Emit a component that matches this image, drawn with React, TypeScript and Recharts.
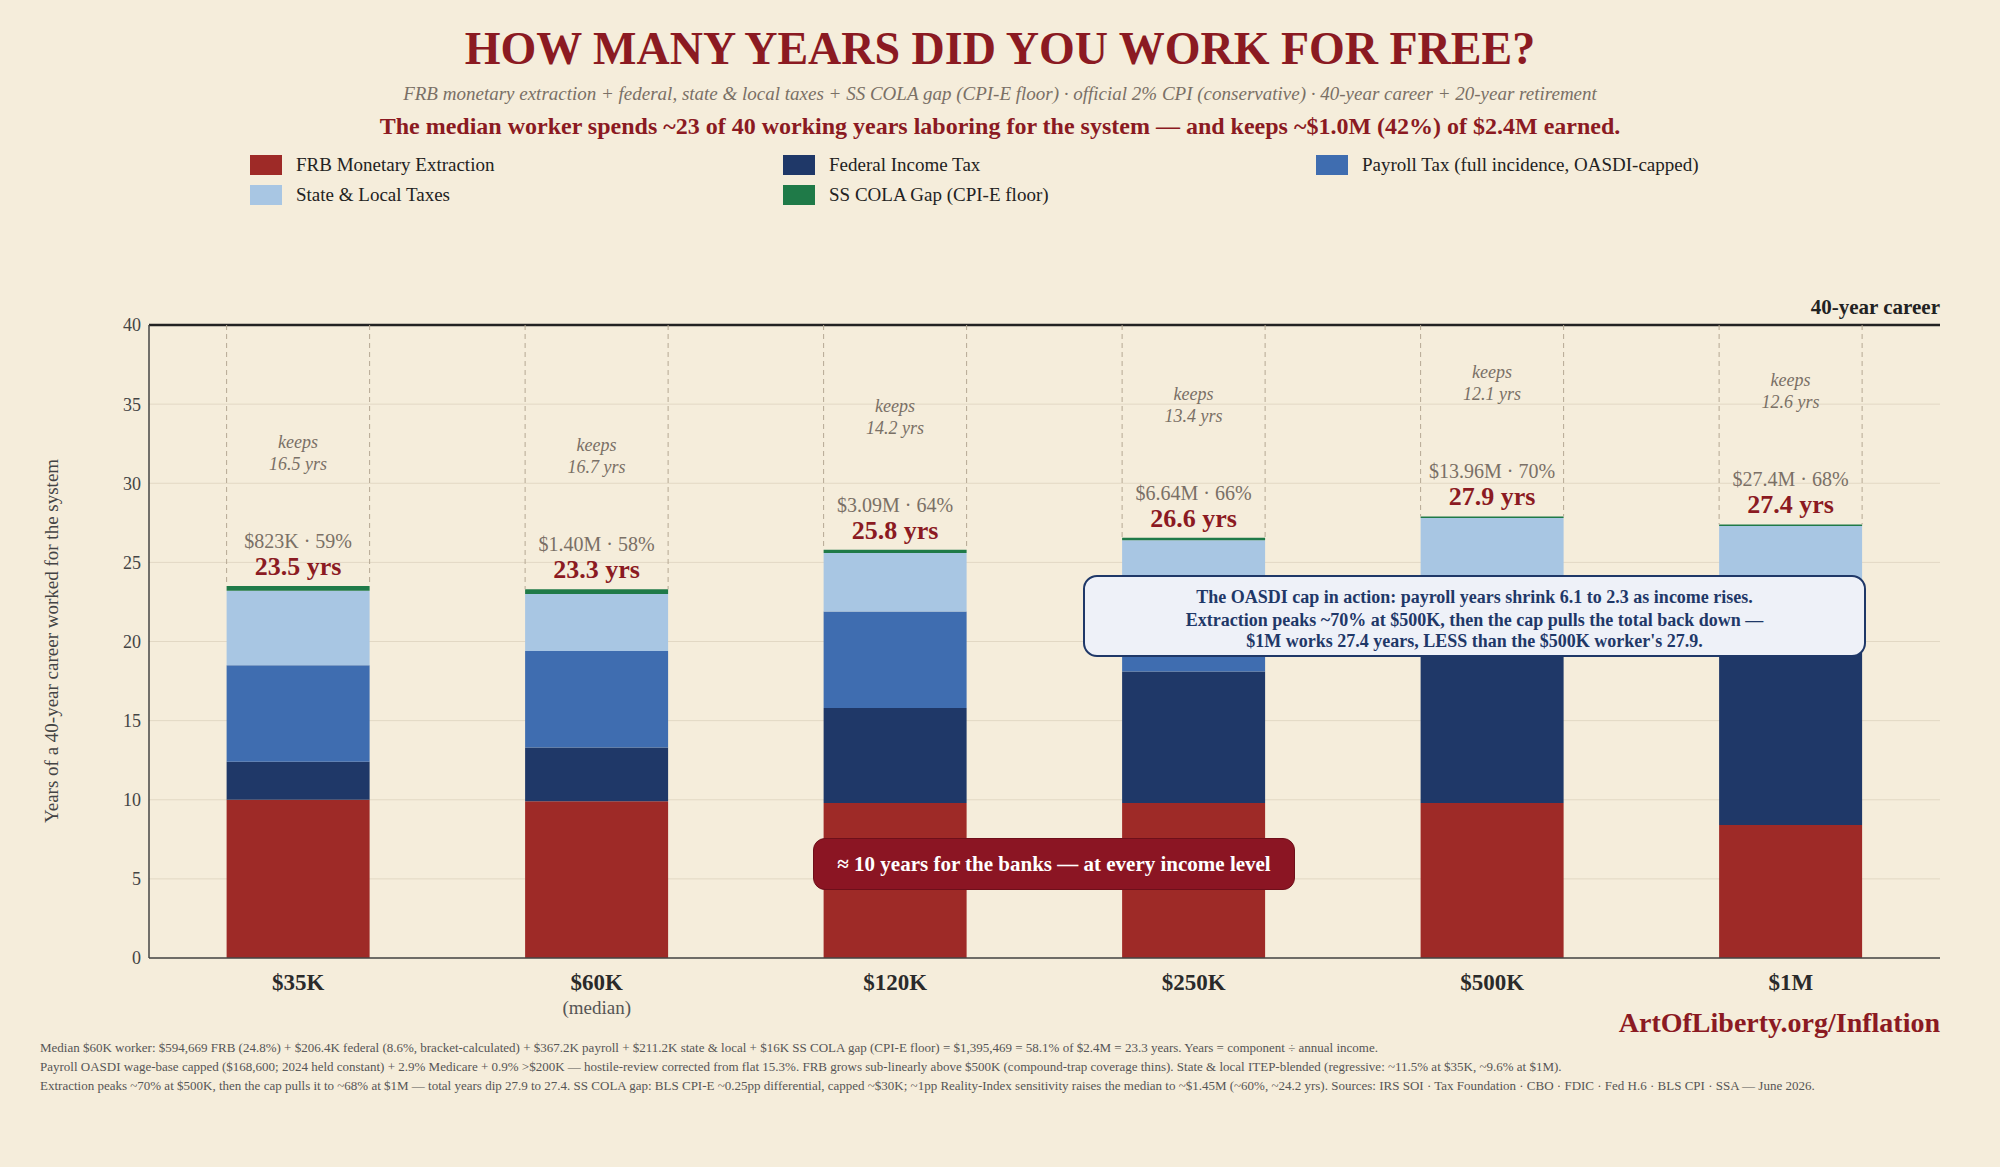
import { BarChart, Bar, XAxis, YAxis, CartesianGrid, ReferenceLine, LabelList } from "recharts";

const incomes = ["$35K", "$60K", "$120K", "$250K", "$500K", "$1M"];
const frb = [10.0, 9.9, 9.8, 9.8, 9.8, 8.4];
const federal = [2.4, 3.4, 6.0, 8.3, 10.5, 12.0];
const payroll = [6.1, 6.1, 6.1, 4.0, 2.8, 2.3];
const stateLocal = [4.7, 3.6, 3.7, 4.3, 4.7, 4.6];
const colaGap = [0.3, 0.3, 0.2, 0.15, 0.1, 0.1];
const totals = ["23.5", "23.3", "25.8", "26.6", "27.9", "27.4"];
const extracted = ["$823K · 59%", "$1.40M · 58%", "$3.09M · 64%", "$6.64M · 66%", "$13.96M · 70%", "$27.4M · 68%"];
const keeps = ["16.5", "16.7", "14.2", "13.4", "12.1", "12.6"];

const data = incomes.map((name, i) => ({
  name,
  frb: frb[i],
  federal: federal[i],
  payroll: payroll[i],
  stateLocal: stateLocal[i],
  cola: colaGap[i],
}));

const C = {
  bg: "#f5eddb",
  red: "#9e2a27",
  navy: "#1f3868",
  blue: "#3f6db0",
  light: "#a8c6e3",
  green: "#1f7a48",
  title: "#8b1a22",
  gray: "#7a7066",
};

const FONT = "'Liberation Serif', serif";
const PLOT_TOP = 325;

const legend = [
  { label: "FRB Monetary Extraction", color: C.red, x: 250, y: 154 },
  { label: "Federal Income Tax", color: C.navy, x: 783, y: 154 },
  { label: "Payroll Tax (full incidence, OASDI-capped)", color: C.blue, x: 1316, y: 154 },
  { label: "State & Local Taxes", color: C.light, x: 250, y: 184 },
  { label: "SS COLA Gap (CPI-E floor)", color: C.green, x: 783, y: 184 },
];

function TopLabel(props: any) {
  const { x, y, width, index } = props;
  const cx = x + width / 2;
  return (
    <g fontFamily={FONT}>
      <line x1={x} x2={x} y1={PLOT_TOP} y2={y} stroke="#b5a894" strokeDasharray="5 4" />
      <line x1={x + width} x2={x + width} y1={PLOT_TOP} y2={y} stroke="#b5a894" strokeDasharray="5 4" />
      <text x={cx} y={y - 138} textAnchor="middle" fontSize={18} fontStyle="italic" fill={C.gray}>keeps</text>
      <text x={cx} y={y - 116} textAnchor="middle" fontSize={18} fontStyle="italic" fill={C.gray}>{keeps[index]} yrs</text>
      <text x={cx} y={y - 38} textAnchor="middle" fontSize={20} fill={C.gray}>{extracted[index]}</text>
      <text x={cx} y={y - 11} textAnchor="middle" fontSize={26} fontWeight="bold" fill={C.title}>{totals[index]} yrs</text>
    </g>
  );
}

function XTick(props: any) {
  const { x, y, payload } = props;
  return (
    <g fontFamily={FONT}>
      <text x={x} y={y + 24} textAnchor="middle" fontSize={23} fontWeight="bold" fill="#2a2a2a">{payload.value}</text>
      {payload.value === "$60K" && (
        <text x={x} y={y + 48} textAnchor="middle" fontSize={19} fill="#555">(median)</text>
      )}
    </g>
  );
}

export default function App() {
  return (
    <div style={{ position: "fixed", left: 0, top: 0, width: 2000, height: 1167, background: C.bg, fontFamily: FONT, overflow: "hidden" }}>
      <div style={{ position: "absolute", top: 22, width: 2000, textAlign: "center", fontSize: 46, fontWeight: "bold", color: C.title }}>
        HOW MANY YEARS DID YOU WORK FOR FREE?
      </div>
      <div style={{ position: "absolute", top: 83, width: 2000, textAlign: "center", fontSize: 19, fontStyle: "italic", color: C.gray }}>
        FRB monetary extraction + federal, state &amp; local taxes + SS COLA gap (CPI-E floor) · official 2% CPI (conservative) · 40-year career + 20-year retirement
      </div>
      <div style={{ position: "absolute", top: 113, width: 2000, textAlign: "center", fontSize: 24, fontWeight: "bold", color: C.title }}>
        The median worker spends ~23 of 40 working years laboring for the system — and keeps ~$1.0M (42%) of $2.4M earned.
      </div>
      {legend.map((l) => (
        <div key={l.label} style={{ position: "absolute", left: l.x, top: l.y, display: "flex", alignItems: "center", fontSize: 19, color: "#222" }}>
          <span style={{ width: 32, height: 20, background: l.color, marginRight: 14, display: "inline-block" }} />
          {l.label}
        </div>
      ))}
      <div style={{ position: "absolute", right: 60, top: 295, fontSize: 21, fontWeight: "bold", color: "#222" }}>40-year career</div>
      <div style={{ position: "absolute", left: 52, top: 641, transform: "translate(-50%, -50%) rotate(-90deg)", whiteSpace: "nowrap", fontSize: 19, color: "#444" }}>
        Years of a 40-year career worked for the system
      </div>

      <div style={{ position: "absolute", left: 0, top: 0 }}>
        <BarChart width={2000} height={1167} data={data} margin={{ top: PLOT_TOP, right: 60, bottom: 149, left: 89 }} barCategoryGap="26%">
          <CartesianGrid vertical={false} stroke="#e2d8c4" />
          <XAxis dataKey="name" tick={<XTick />} tickLine={false} axisLine={{ stroke: "#444", strokeWidth: 1.5 }} height={60} />
          <YAxis domain={[0, 40]} ticks={[0, 5, 10, 15, 20, 25, 30, 35, 40]} width={60} tick={{ fontSize: 18, fill: "#444", fontFamily: FONT }} tickLine={false} axisLine={{ stroke: "#444", strokeWidth: 1.5 }} />
          <ReferenceLine y={40} stroke="#222" strokeWidth={2.5} />
          <Bar dataKey="frb" stackId="a" fill={C.red} isAnimationActive={false} />
          <Bar dataKey="federal" stackId="a" fill={C.navy} isAnimationActive={false} />
          <Bar dataKey="payroll" stackId="a" fill={C.blue} isAnimationActive={false} />
          <Bar dataKey="stateLocal" stackId="a" fill={C.light} isAnimationActive={false} />
          <Bar dataKey="cola" stackId="a" fill={C.green} isAnimationActive={false}>
            <LabelList dataKey="cola" content={<TopLabel />} />
          </Bar>
        </BarChart>
      </div>

      <div style={{ position: "absolute", left: 813, top: 838, width: 482, height: 52, boxSizing: "border-box", background: "#8b1523", border: "1px solid #6e0f1a", borderRadius: 12, color: "#fff", fontSize: 21, fontWeight: "bold", display: "flex", alignItems: "center", justifyContent: "center", whiteSpace: "nowrap" }}>
        ≈ 10 years for the banks — at every income level
      </div>
      <div style={{ position: "absolute", left: 1083, top: 575, width: 783, height: 82, boxSizing: "border-box", background: "#eef1f8", border: "2px solid #1f3868", borderRadius: 14, color: "#1f3868", fontSize: 18, fontWeight: "bold", textAlign: "center", paddingTop: 8, lineHeight: "24px" }}>
        <div>The OASDI cap in action: payroll years shrink 6.1 to 2.3 as income rises.</div>
        <div style={{ lineHeight: "22px" }}>Extraction peaks ~70% at $500K, then the cap pulls the total back down —</div>
        <div style={{ lineHeight: "20px" }}>$1M works 27.4 years, LESS than the $500K worker's 27.9.</div>
      </div>

      <div style={{ position: "absolute", right: 60, top: 1007, fontSize: 28, fontWeight: "bold", color: C.title }}>ArtOfLiberty.org/Inflation</div>
      <div style={{ position: "absolute", left: 40, top: 1038, fontSize: 13, color: "#555", lineHeight: "19px", whiteSpace: "nowrap" }}>
        <div>Median $60K worker: $594,669 FRB (24.8%) + $206.4K federal (8.6%, bracket-calculated) + $367.2K payroll + $211.2K state &amp; local + $16K SS COLA gap (CPI-E floor) = $1,395,469 = 58.1% of $2.4M = 23.3 years. Years = component ÷ annual income.</div>
        <div>Payroll OASDI wage-base capped ($168,600; 2024 held constant) + 2.9% Medicare + 0.9% &gt;$200K — hostile-review corrected from flat 15.3%. FRB grows sub-linearly above $500K (compound-trap coverage thins). State &amp; local ITEP-blended (regressive: ~11.5% at $35K, ~9.6% at $1M).</div>
        <div>Extraction peaks ~70% at $500K, then the cap pulls it to ~68% at $1M — total years dip 27.9 to 27.4. SS COLA gap: BLS CPI-E ~0.25pp differential, capped ~$30K; ~1pp Reality-Index sensitivity raises the median to ~$1.45M (~60%, ~24.2 yrs). Sources: IRS SOI · Tax Foundation · CBO · FDIC · Fed H.6 · BLS CPI · SSA — June 2026.</div>
      </div>
    </div>
  );
}
